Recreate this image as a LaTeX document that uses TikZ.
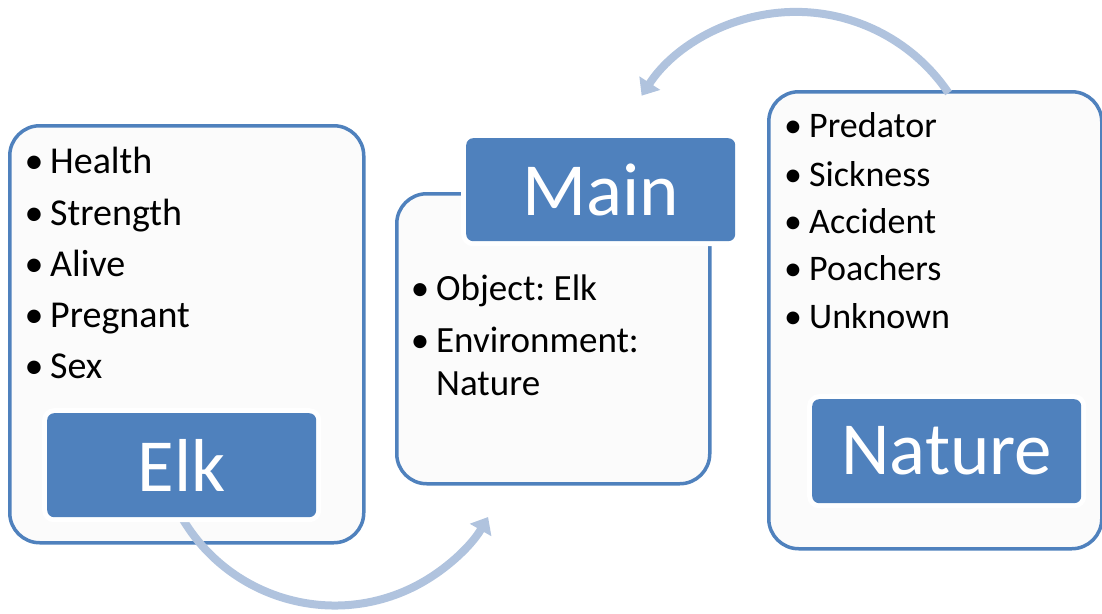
\documentclass[tikz,border=0pt]{standalone}
\usepackage{fontspec}
\setmainfont{Carlito}
\usetikzlibrary{arrows.meta}
\definecolor{boxblue}{RGB}{79,129,189}
\definecolor{arrowblue}{RGB}{176,195,222}
\definecolor{boxfill}{RGB}{251,251,251}
\newcommand\bul{\makebox[0pt][c]{•}\hspace{16pt}}
\frenchspacing
\begin{document}
\begin{tikzpicture}[x=1pt,y=1pt,
 outerbox/.style={draw=boxblue,line width=3.5pt,fill=boxfill,rounded corners=30pt,anchor=north west,inner sep=0pt},
 labelbox/.style={fill=boxblue,rounded corners=7pt,anchor=north west,inner sep=0pt,text=white,
   font=\fontsize{75}{80}\selectfont,preaction={draw=white,line width=10pt}},
 item/.style={anchor=base west,inner sep=0pt},
 cycarrow/.style={draw=arrowblue,line width=8pt,-{Triangle[width=24pt,length=15pt]}}
]
\useasboundingbox (0,0) rectangle (1102,-613);
% outer boxes
\node[outerbox,minimum width=354,minimum height=417] (elkbox) at (8,-124) {};
\node[outerbox,minimum width=313,minimum height=290] (mainbox) at (395,-192) {};
\node[outerbox,minimum width=333,minimum height=457] (naturebox) at (767,-90) {};
% arrows
\coordinate (botstart) at (181.5,-517);
\coordinate (topstart) at (948.5,-93);
\draw[cycarrow] (botstart) arc[start angle=210,end angle=330,radius=177];
\draw[cycarrow] (topstart) arc[start angle=34,end angle=147,radius=184];
% label boxes
\node[labelbox,minimum width=269,minimum height=104] (elklabel) at (47,-413) {Elk};
\node[labelbox,minimum width=269,minimum height=103] (mainlabel) at (466,-138) {Main};
\node[labelbox,minimum width=269,minimum height=104] (naturelabel) at (812,-399) {Nature};
% Elk items
\begin{scope}[every node/.append style={font=\fontsize{38}{44}\selectfont}]
\node[item] (e1) at (34,-173) {\bul Health};
\node[item] (e2) at (34,-225) {\bul Strength};
\node[item] (e3) at (34,-276) {\bul Alive};
\node[item] (e4) at (34,-327) {\bul Pregnant};
\node[item] (e5) at (34,-378) {\bul Sex};
\end{scope}
% Main items
\begin{scope}[every node/.append style={font=\fontsize{37}{43}\selectfont}]
\node[item] (m1) at (420,-300) {\bul Object: Elk};
\node[item] (m2) at (420,-352) {\bul Environment:};
\node[item] (m3) at (436,-395) {Nature};
\end{scope}
% Nature items
\begin{scope}[every node/.append style={font=\fontsize{36}{42}\selectfont}]
\node[item] (n1) at (793,-137) {\bul Predator};
\node[item] (n2) at (793,-186) {\bul Sickness};
\node[item] (n3) at (793,-233) {\bul Accident};
\node[item] (n4) at (793,-280) {\bul Poachers};
\node[item] (n5) at (793,-328) {\bul Unknown};
\end{scope}
\end{tikzpicture}
\end{document}
